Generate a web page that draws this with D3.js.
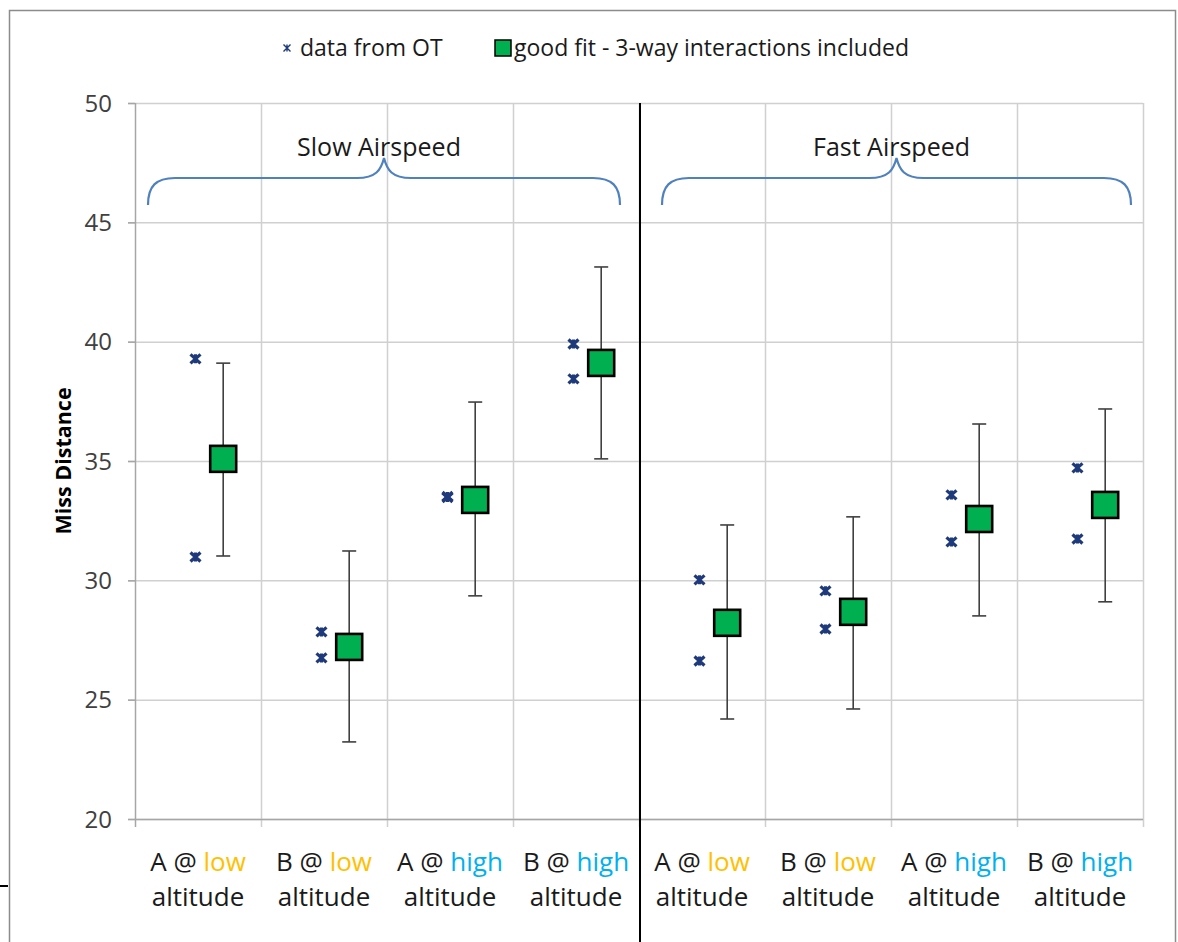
<!DOCTYPE html>
<html>
<head>
<meta charset="utf-8">
<script src="https://cdn.jsdelivr.net/npm/d3@7"></script>
<style>
  body { margin: 0; background: #fff; }
  svg { display: block; font-family: "Open Sans", Lato, sans-serif; }
</style>
</head>
<body>
<svg width="1178" height="942"></svg>
<script>
// category labels: letter + altitude level
const catLetters = ["A", "B", "A", "B", "A", "B", "A", "B"];
const catLevels = ["low", "low", "high", "high", "low", "low", "high", "high"];
const groupNames = ["Slow Airspeed", "Fast Airspeed"];

// raw data points (two per category)
const otData = [
  [39.28, 30.98], [27.84, 26.75], [33.47, 33.51], [39.9, 38.44],
  [30.02, 26.62], [29.56, 27.96], [33.58, 31.61], [34.71, 31.73]
];
// model fit with error bars
const fitValues = [35.09, 27.21, 33.37, 39.11, 28.22, 28.68, 32.57, 33.16];
const errLow = [31.02, 23.23, 29.35, 35.09, 24.19, 24.61, 28.51, 29.10];
const errHigh = [39.10, 31.23, 37.47, 43.13, 32.32, 32.66, 36.55, 37.18];
const yTicks = [20, 25, 30, 35, 40, 45, 50];

const svg = d3.select("svg");
const levelColor = { low: "#FFC000", high: "#00B0F0" };
const starColor = "#1F3A7A";
const textColor = "#1a1a1a";

const x = d3.scaleLinear().domain([0, 8]).range([135, 1143]);
const y = d3.scaleLinear().domain([20, 50]).range([819, 103]);

// outer chart border
svg.append("rect")
  .attr("x", 9.5).attr("y", 10.5)
  .attr("width", 1166).attr("height", 960)
  .attr("fill", "none").attr("stroke", "#8c8c8c").attr("stroke-width", 1.5);
svg.append("line")
  .attr("x1", 0).attr("x2", 8).attr("y1", 886).attr("y2", 886)
  .attr("stroke", "#000").attr("stroke-width", 2);

// gridlines
svg.append("g").selectAll("line")
  .data(yTicks)
  .enter().append("line")
  .attr("x1", x(0) - 7).attr("x2", x(8))
  .attr("y1", d => y(d) + 0.5).attr("y2", d => y(d) + 0.5)
  .attr("stroke", "#d0d0d0").attr("stroke-width", 1.5);

svg.append("g").selectAll("line")
  .data(d3.range(0, 9))
  .enter().append("line")
  .attr("x1", d => x(d) + 0.5).attr("x2", d => x(d) + 0.5)
  .attr("y1", y(50)).attr("y2", y(20) + 8)
  .attr("stroke", d => d === 0 ? "#a6a6a6" : "#d0d0d0").attr("stroke-width", 1.5);

// y axis tick marks
svg.append("g").selectAll("line")
  .data(yTicks)
  .enter().append("line")
  .attr("x1", x(0) - 7).attr("x2", x(0))
  .attr("y1", d => y(d) + 0.5).attr("y2", d => y(d) + 0.5)
  .attr("stroke", "#a6a6a6").attr("stroke-width", 1.5);

svg.append("line")
  .attr("x1", x(0)).attr("x2", x(8))
  .attr("y1", y(20) + 0.5).attr("y2", y(20) + 0.5)
  .attr("stroke", "#a6a6a6").attr("stroke-width", 1.5);

// separator between slow and fast
svg.append("line")
  .attr("x1", x(4) + 1).attr("x2", x(4) + 1)
  .attr("y1", y(50)).attr("y2", 942)
  .attr("stroke", "#000").attr("stroke-width", 2);

// y tick labels
svg.append("g").selectAll("text")
  .data(yTicks)
  .enter().append("text")
  .attr("x", 112).attr("y", d => y(d))
  .attr("dy", "0.36em")
  .attr("text-anchor", "end")
  .attr("font-size", 24)
  .attr("fill", "#404040")
  .text(d => d);

svg.append("text")
  .attr("transform", `translate(71,${(y(20) + y(50)) / 2}) rotate(-90)`)
  .attr("text-anchor", "middle")
  .attr("font-size", 21.5)
  .attr("font-weight", "bold")
  .attr("fill", "#000")
  .text("Miss Distance");

// category labels
const catLabel = svg.append("g").selectAll("g")
  .data(catLetters)
  .enter().append("g")
  .attr("transform", (d, i) => `translate(${x(i + 0.5)},0)`);

const line1 = catLabel.append("text")
  .attr("y", 871)
  .attr("text-anchor", "middle")
  .attr("font-size", 26);
line1.append("tspan").attr("fill", textColor).text(d => d + " @ ");
line1.append("tspan")
  .attr("fill", (d, i) => levelColor[catLevels[i]])
  .text((d, i) => catLevels[i]);

catLabel.append("text")
  .attr("y", 906)
  .attr("text-anchor", "middle")
  .attr("font-size", 26)
  .attr("fill", textColor)
  .text("altitude");

// group titles + braces
const braceColor = "#4F81BD";
groupNames.forEach((name, g) => {
  const left = x(g * 4) + (g === 0 ? 13 : 23);
  const right = x(g * 4 + 4) - (g === 0 ? 19 : 12);
  const cx = (left + right) / 2;
  svg.append("text")
    .attr("x", cx - 5).attr("y", 156)
    .attr("text-anchor", "middle")
    .attr("font-size", 25)
    .attr("fill", textColor)
    .text(name);

  const yEnd = 205, yMid = 178, yPeak = 158, r = 27;
  const path = d3.path();
  path.moveTo(left, yEnd);
  path.bezierCurveTo(left, yMid + 8, left + 8, yMid, left + r, yMid);
  path.lineTo(cx - r, yMid);
  path.bezierCurveTo(cx - 8, yMid, cx - 3, yMid - 8, cx, yPeak);
  path.bezierCurveTo(cx + 3, yMid - 8, cx + 8, yMid, cx + r, yMid);
  path.lineTo(right - r, yMid);
  path.bezierCurveTo(right - 8, yMid, right, yMid + 8, right, yEnd);
  svg.append("path")
    .attr("d", path.toString())
    .attr("fill", "none")
    .attr("stroke", braceColor)
    .attr("stroke-width", 2.2);
});

// asterisk marker
function star(sel, w, h, sw) {
  const a = w / 2, b = h / 2;
  sel.append("path")
    .attr("d", `M${-a},${-b}L${a},${b}M${-a},${b}L${a},${-b}M0,${-b}L0,${b}`)
    .attr("stroke", starColor)
    .attr("stroke-width", sw)
    .attr("fill", "none");
}

const pts = [];
otData.forEach((vals, i) => vals.forEach(v => pts.push({ i, v })));
svg.append("g").selectAll("g")
  .data(pts)
  .enter().append("g")
  .attr("transform", d => `translate(${x(d.i + 0.48)},${y(d.v)})`)
  .each(function () { star(d3.select(this), 10, 9, 3.2); });

// error bars
const eb = svg.append("g")
  .attr("stroke", "#404040")
  .attr("stroke-width", 1.6);
fitValues.forEach((f, i) => {
  const cx = x(i + 0.7);
  eb.append("line").attr("x1", cx).attr("x2", cx).attr("y1", y(errHigh[i])).attr("y2", y(errLow[i]));
  eb.append("line").attr("x1", cx - 7).attr("x2", cx + 7).attr("y1", y(errHigh[i])).attr("y2", y(errHigh[i]));
  eb.append("line").attr("x1", cx - 7).attr("x2", cx + 7).attr("y1", y(errLow[i])).attr("y2", y(errLow[i]));
});

// fit squares
const sq = 26;
svg.append("g").selectAll("rect")
  .data(fitValues)
  .enter().append("rect")
  .attr("x", (d, i) => x(i + 0.7) - sq / 2)
  .attr("y", d => y(d) - sq / 2)
  .attr("width", sq).attr("height", sq)
  .attr("fill", "#00B050")
  .attr("stroke", "#000")
  .attr("stroke-width", 2.6);

// legend
const lg = svg.append("g");
const lgStar = lg.append("g").attr("transform", "translate(287,48)");
star(lgStar, 7, 7, 1.4);
lg.append("text")
  .attr("x", 300).attr("y", 56)
  .attr("font-size", 23)
  .attr("fill", textColor)
  .text("data from OT");
lg.append("rect")
  .attr("x", 495).attr("y", 40)
  .attr("width", 16).attr("height", 16)
  .attr("fill", "#00B050")
  .attr("stroke", "#000")
  .attr("stroke-width", 1.5);
lg.append("text")
  .attr("x", 514).attr("y", 56)
  .attr("font-size", 23)
  .attr("fill", textColor)
  .text("good fit - 3-way interactions included");
</script>
</body>
</html>
